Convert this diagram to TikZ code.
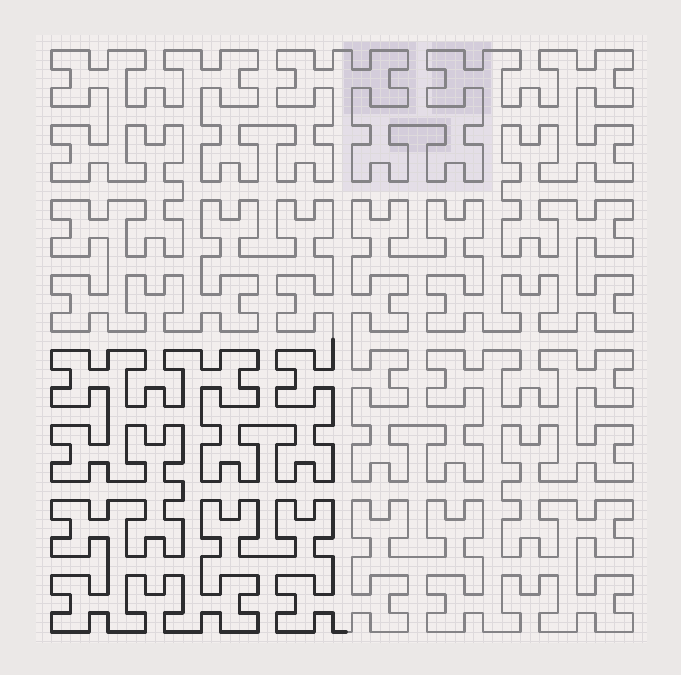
\documentclass[tikz,border=0pt]{standalone}
\usepackage{tikz}
\definecolor{paper}{RGB}{235,232,231}
\definecolor{sheet}{RGB}{242,238,237}
\definecolor{gridfr}{RGB}{222,218,220}
\definecolor{ink}{RGB}{45,45,47}
\definecolor{pencil}{RGB}{132,131,134}
\definecolor{washlight}{RGB}{228,222,231}
\definecolor{washdark}{RGB}{212,205,219}
\tikzset{
  gridpaper/.style={draw=gridfr, line width=0.45pt},
  hilbert/.style={draw=pencil, line width=2pt, line join=round, line cap=round},
  hilbertdark/.style={draw=ink, line width=2.5pt, line join=round, line cap=round},
  wash/.style={fill=washlight, draw=none},
  washdeep/.style={fill=washdark, draw=none},
}
% turtle for the Hilbert pieces (dir: 0 E, 1 N, 2 W, 3 S)
\newcount\hdir \newcount\hx \newcount\hy
\def\hturnL{\global\advance\hdir by 1 \ifnum\hdir>3 \global\advance\hdir by -4 \fi}
\def\hturnR{\global\advance\hdir by -1 \ifnum\hdir<0 \global\advance\hdir by 4 \fi}
\def\hstep{\ifcase\hdir \global\advance\hx by 1 \or \global\advance\hy by 1 \or
  \global\advance\hx by -1 \or \global\advance\hy by -1 \fi
  \xdef\hpath{\hpath -- (\the\hx,\the\hy)}}
\def\hsub#1#2{\expandafter#1\expandafter{\the\numexpr#2-1\relax}}
\def\hilA#1{\ifnum#1>0
  \hturnL\hsub\hilB{#1}\hstep\hturnR\hsub\hilA{#1}\hstep\hsub\hilA{#1}%
  \hturnR\hstep\hsub\hilB{#1}\hturnL\fi}
\def\hilB#1{\ifnum#1>0
  \hturnR\hsub\hilA{#1}\hstep\hturnL\hsub\hilB{#1}\hstep\hsub\hilB{#1}%
  \hturnL\hstep\hsub\hilA{#1}\hturnR\fi}
% closed loop of four order-4 pieces, the lower left one kept apart
\global\hdir=1 \global\hx=15 \global\hy=0
\xdef\hpath{(15,0)}
\hilA{4}
\global\let\hdarkpath\hpath
\hstep\hilA{4}\hturnR\hstep\hturnR\hilA{4}\hstep\hilA{4}

\begin{document}
\begin{tikzpicture}[x=5mm,y=5mm]
  \fill[paper] (-2.76,-2.29) rectangle (33.55,33.69);
  \fill[sheet] (-0.85,-0.6) rectangle (31.75,31.8);
  % washed block, top
  \fill[wash] (15.5,23.5) rectangle (23.5,31.5);
  \fill[washdeep] (15.6,27.6) rectangle (19.4,31.5);
  \fill[washdeep] (20.3,27.6) rectangle (23.4,31.5);
  \fill[washdeep] (18,25.6) rectangle (21.3,27.4);
  \draw[gridpaper, step=0.5] (-0.85,-0.6) grid (31.75,31.8);
  \draw[hilbert] \hpath -- cycle;
  \draw[hilbertdark] (15.7,0) -- \hdarkpath -- (15,15.6);
\end{tikzpicture}
\end{document}
